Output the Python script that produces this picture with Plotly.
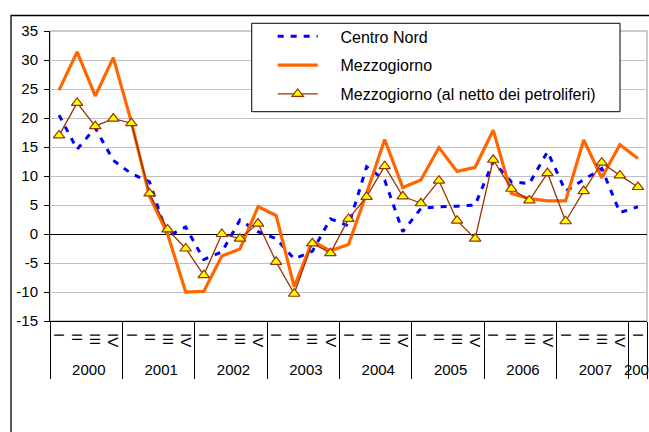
import plotly.graph_objects as go

# ---- data ----
year_labels = ["2000", "2001", "2002", "2003", "2004", "2005", "2006", "2007", "2008"]
quarter_labels = ["I", "II", "III", "IV"]
n_points = 33

centro_nord = [20.5, 14.6, 18.3, 12.7, 10.4, 9.0, -0.4, 1.2, -4.4, -3.1, 2.4, 0.4,
               -0.8, -4.3, -3.0, 2.6, 1.4, 11.6, 9.3, 0.4, 4.4, 4.7, 4.8, 5.0,
               12.5, 9.0, 8.7, 14.2, 7.4, 9.3, 11.3, 3.7, 4.7]
mezzogiorno = [24.8, 31.4, 23.8, 30.4, 19.3, 6.5, 0.0, -10.0, -9.9, -3.8, -2.6, 4.7,
               3.2, -9.1, -1.2, -2.9, -1.8, 7.0, 16.3, 8.0, 9.3, 14.9, 10.8, 11.5,
               17.9, 7.0, 6.1, 5.7, 5.7, 16.2, 9.7, 15.4, 13.0]
mezzogiorno_netto = [17.0, 22.6, 18.6, 19.9, 19.1, 7.0, 0.8, -2.5, -7.1, 0.0, -0.8, 1.8,
                     -4.8, -10.3, -1.6, -3.3, 2.6, 6.4, 11.7, 6.5, 5.3, 9.2, 2.3, -0.8,
                     12.8, 7.8, 5.8, 10.5, 2.2, 7.4, 12.3, 10.1, 8.1]

series_names = ["Centro Nord", "Mezzogiorno", "Mezzogiorno (al netto dei petroliferi)"]
y_ticks = [-15, -10, -5, 0, 5, 10, 15, 20, 25, 30, 35]

# category pairs (year, quarter); trailing spaces only enlarge the rotated label row
TRAIL = "\u00a0\u2009"
x_outer = []
x_inner = []
for y in year_labels:
    for q in quarter_labels:
        x_outer.append(y)
        x_inner.append(q + TRAIL)
x_outer = x_outer[:n_points]
x_inner = x_inner[:n_points]
x = [x_outer, x_inner]

FONT = "Liberation Sans, Arial, sans-serif"
PAD = "\u00a0" * 4  # gap between legend sample and its label

fig = go.Figure()
fig.add_trace(go.Scatter(
    x=x, y=centro_nord, name=PAD + series_names[0], mode="lines", legendgroup="a",
    line=dict(color="#0000FF", width=3, dash="6px,7px"),
))
fig.add_trace(go.Scatter(
    x=x, y=mezzogiorno, name=PAD + series_names[1], mode="lines", legendgroup="b",
    line=dict(color="#FF6600", width=3.2),
))
fig.add_trace(go.Scatter(
    x=x, y=mezzogiorno_netto, name=PAD + series_names[2], mode="lines+markers", legendgroup="c",
    line=dict(color="#993300", width=1.3),
    marker=dict(symbol="triangle-up", size=10, color="#FFFF00",
                line=dict(color="#993300", width=1.2)),
))

shapes = [
    # plot area border (gray)
    dict(type="rect", xref="paper", yref="paper", x0=0, x1=1, y0=0, y1=1,
         line=dict(color="#999999", width=1), layer="below"),
    # outer chart frame
    dict(type="rect", xref="paper", yref="paper", x0=-0.0653, x1=1.2, y0=-1.0, y1=1.0534,
         line=dict(color="#000000", width=1.3), fillcolor="rgba(0,0,0,0)"),
    # legend box
    dict(type="rect", xref="paper", yref="paper", x0=0.3379, x1=0.9548, y0=0.7217, y1=1.0266,
         line=dict(color="#000000", width=1), fillcolor="#FFFFFF", layer="above"),
]

fig.update_layout(
    width=649, height=432,
    margin=dict(l=50, r=2, t=31, b=111, autoexpand=False),
    paper_bgcolor="#FFFFFF", plot_bgcolor="#FFFFFF",
    font=dict(family=FONT, size=15, color="#000000"),
    showlegend=True,
    legend=dict(
        x=0.373, y=1.040, xanchor="left", yanchor="top",
        bgcolor="rgba(0,0,0,0)", borderwidth=0,
        font=dict(family=FONT, size=16, color="#000000"),
        tracegroupgap=5, itemwidth=40,
    ),
    shapes=shapes,
)

fig.update_xaxes(
    type="multicategory",
    range=[-0.5, n_points - 0.5],
    dtick=1,
    showline=True, linecolor="#000000", linewidth=1,
    showgrid=False, ticks="",
    tickangle=90,
    ticklabelstandoff=8,
    tickfont=dict(family=FONT, size=15, color="#000000"),
    showdividers=True, dividercolor="#000000", dividerwidth=1,
)
fig.update_yaxes(
    range=[-15, 35], tickvals=y_ticks, ticktext=[str(v) for v in y_ticks],
    showline=True, linecolor="#000000", linewidth=1,
    showgrid=True, gridcolor="#C0C0C0", gridwidth=1,
    zeroline=True, zerolinecolor="#000000", zerolinewidth=1,
    ticks="outside", ticklen=5, tickcolor="#000000",
    tickfont=dict(family=FONT, size=15, color="#000000"),
    ticklabelstandoff=3,
)

fig.write_html("out.html", config={"displayModeBar": False},
               post_script="document.body.style.margin='0';")
